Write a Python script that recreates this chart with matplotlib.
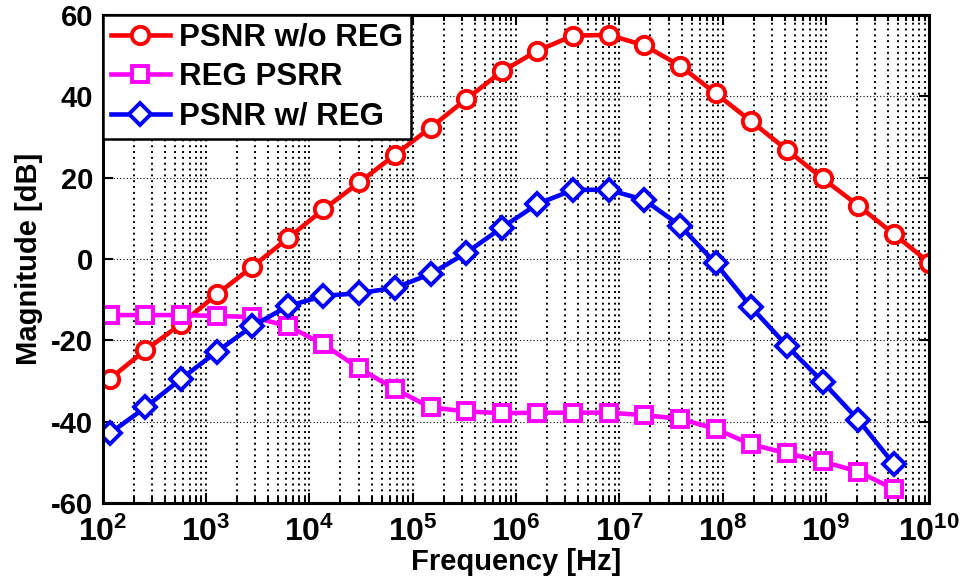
import numpy as np
import matplotlib
matplotlib.use("Agg")
from matplotlib import pyplot as plt
from matplotlib.ticker import FixedLocator, FuncFormatter, NullFormatter

plt.rcParams['font.family'] = ['Liberation Sans', 'DejaVu Sans']
plt.rcParams['font.weight'] = 'bold'
plt.rcParams['axes.unicode_minus'] = False
plt.rcParams['mathtext.fontset'] = 'custom'
plt.rcParams['mathtext.rm'] = 'Liberation Sans:bold'
plt.rcParams['mathtext.bf'] = 'Liberation Sans:bold'
plt.rcParams['mathtext.it'] = 'Liberation Sans:bold'

# frequency points [Hz]
freq = [1.17e2, 2.59e2, 5.73e2, 1.27e3, 2.81e3, 6.21e3, 1.37e4, 3.04e4,
        6.73e4, 1.49e5, 3.30e5, 7.30e5, 1.61e6, 3.57e6, 7.91e6, 1.75e7,
        3.87e7, 8.57e7, 1.90e8, 4.20e8, 9.29e8, 2.06e9, 4.55e9, 1.0e10]

psnr_no_reg = [-29.5, -22.4, -16.0, -8.7, -1.9, 5.1, 12.2, 18.8,
               25.6, 32.3, 39.3, 46.1, 51.2, 54.9, 55.1, 52.5,
               47.5, 40.7, 33.8, 26.8, 19.8, 13.1, 6.1, -0.9]

reg_psrr = [-13.8, -13.8, -13.8, -14.0, -14.3, -16.5, -21.0, -26.9,
            -32.0, -36.5, -37.5, -37.9, -37.8, -37.8, -37.8, -38.4,
            -39.3, -41.8, -45.6, -47.8, -49.8, -52.3, -56.6]

psnr_reg = [-42.9, -36.5, -29.5, -22.8, -16.5, -11.6, -9.1, -8.4,
            -7.1, -3.7, 1.5, 7.7, 13.5, 17.0, 17.0, 14.5,
            8.2, -1.1, -11.9, -21.4, -30.2, -39.6, -50.5]

decades = [2, 3, 4, 5, 6, 7, 8, 9, 10]

fig = plt.figure(figsize=(9.6, 5.88), dpi=100)
ax = fig.add_axes([0.107, 0.1446, 0.861, 0.83])

mk = dict(markerfacecolor='white', markersize=12.5, markeredgewidth=2.8, linewidth=3.3)
ax.semilogx(freq, psnr_no_reg, '-o', color='#ff0000', label='PSNR w/o REG', **mk)
ax.semilogx(freq[:len(reg_psrr)], reg_psrr, '-s', color='#ff00ff', label='REG PSRR',
            markerfacecolor='white', markersize=11.5, markeredgewidth=2.8, linewidth=3.3)
ax.semilogx(freq[:len(psnr_reg)], psnr_reg, '-D', color='#0000ff', label='PSNR w/ REG',
            markerfacecolor='white', markersize=11, markeredgewidth=2.8, linewidth=3.3)

ax.set_xlim(1e2, 1e10)
ax.set_ylim(-60, 60)
ax.set_yticks([-60, -40, -20, 0, 20, 40, 60])
ax.xaxis.set_major_locator(FixedLocator([10.0 ** d for d in decades]))
ax.xaxis.set_minor_locator(FixedLocator([m * 10.0 ** d for d in decades[:-1] for m in range(2, 10)]))
ax.xaxis.set_minor_formatter(NullFormatter())
ax.xaxis.set_major_formatter(FuncFormatter(lambda v, p: r'$10^{%d}$' % round(np.log10(v))))

ax.grid(True, which='major', axis='y', color='black', linestyle=(0, (1, 2)), linewidth=0.8)
ax.grid(True, which='both', axis='x', color='black', linestyle=(0, (1, 2)), linewidth=1.4)

ax.tick_params(which='both', direction='in', top=True, right=True, labelsize=21, width=1.5)
ax.tick_params(axis='x', labelsize=23, pad=10)
ax.tick_params(which='major', length=7)
ax.tick_params(which='minor', length=4)
ax.tick_params(axis='y', pad=7)
for s in ax.spines.values():
    s.set_linewidth(2.2)

ax.set_xlabel('Frequency [Hz]', fontsize=21, fontweight='bold', labelpad=0)
ax.set_ylabel('Magnitude [dB]', fontsize=21, fontweight='bold', labelpad=6)

leg = ax.legend(loc='upper left', fontsize=22.5, borderaxespad=0, fancybox=False,
                framealpha=1, edgecolor='black', handlelength=1.9, labelspacing=0.3,
                handletextpad=0.3, borderpad=0.25)
leg.get_frame().set_linewidth(1.8)
for t in leg.get_texts():
    t.set_fontweight('bold')

fig.savefig('out.png', dpi=100)
